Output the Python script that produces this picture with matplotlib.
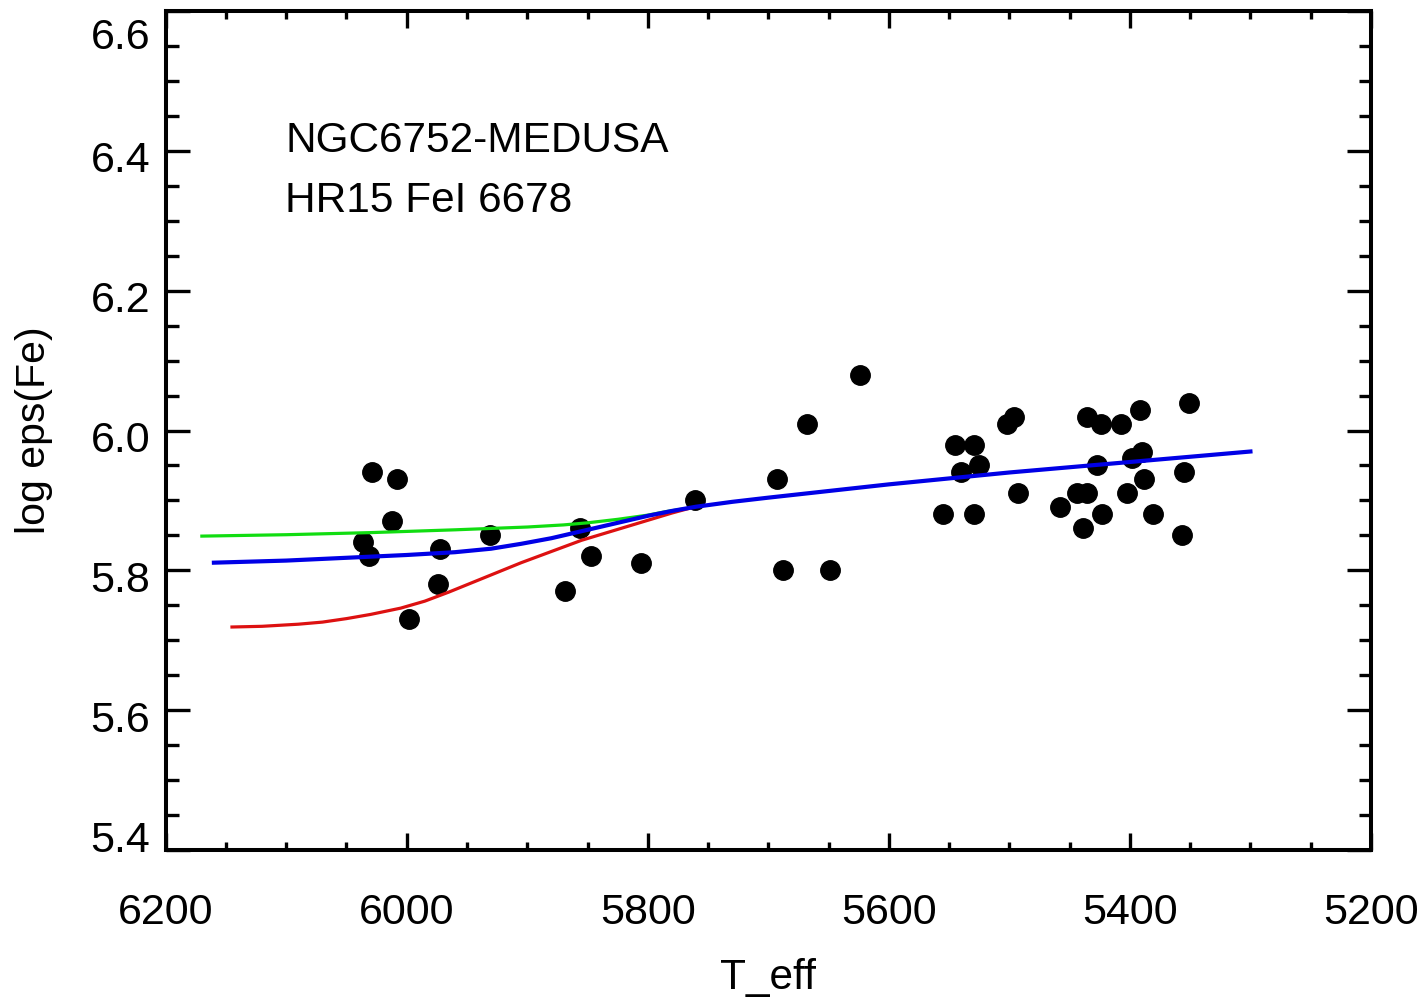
import numpy as np
import matplotlib
matplotlib.use('Agg')
import matplotlib.pyplot as plt
from matplotlib.transforms import ScaledTranslation
from matplotlib.ticker import MultipleLocator

plt.rcParams['font.family'] = ['Liberation Sans', 'DejaVu Sans']

# stars: effective temperature and abundance
teff = [6029, 6008, 6012, 6036, 6031, 5972, 5974, 5998, 5931, 5856,
        5847, 5869, 5806, 5761, 5693, 5688, 5668, 5649, 5624,
        5555, 5529, 5545, 5529, 5540, 5525, 5502, 5496, 5493, 5458,
        5444, 5436, 5439, 5423, 5427, 5436, 5424, 5407, 5392, 5398,
        5390, 5402, 5388, 5381, 5351, 5355, 5357]
logeps = [5.94, 5.93, 5.87, 5.84, 5.82, 5.83, 5.78, 5.73, 5.85, 5.86,
          5.82, 5.77, 5.81, 5.90, 5.93, 5.80, 6.01, 5.80, 6.08,
          5.88, 5.88, 5.98, 5.98, 5.94, 5.95, 6.01, 6.02, 5.91, 5.89,
          5.91, 5.91, 5.86, 5.88, 5.95, 6.02, 6.01, 6.01, 6.03, 5.96,
          5.97, 5.91, 5.93, 5.88, 6.04, 5.94, 5.85]

# model curves
green_t = [6170, 6100, 6030, 5960, 5900, 5870, 5850, 5825, 5800, 5785, 5770]
green_y = [5.849, 5.851, 5.854, 5.858, 5.862, 5.865, 5.868, 5.873, 5.879, 5.884, 5.888]

red_t = [6145, 6120, 6090, 6070, 6050, 6030, 6005, 5985, 5965, 5945, 5925,
         5905, 5880, 5855, 5830, 5805, 5780, 5765]
red_y = [5.719, 5.720, 5.723, 5.726, 5.731, 5.737, 5.746, 5.756, 5.769, 5.783, 5.797,
         5.811, 5.827, 5.843, 5.856, 5.869, 5.882, 5.889]

blue_t = [6160, 6100, 6050, 6000, 5960, 5930, 5905, 5880, 5860, 5840, 5820,
          5800, 5780, 5760, 5730, 5700, 5600, 5500, 5400, 5300]
blue_y = [5.811, 5.814, 5.818, 5.822, 5.826, 5.831, 5.838, 5.846, 5.854, 5.862, 5.870,
          5.878, 5.885, 5.891, 5.898, 5.904, 5.923, 5.940, 5.955, 5.970]

yticks = [5.4, 5.6, 5.8, 6.0, 6.2, 6.4, 6.6]
xticks = [6200, 6000, 5800, 5600, 5400, 5200]

fig = plt.figure(figsize=(14.26, 10.01), dpi=100)
ax = fig.add_axes([0.1162, 0.1508, 0.8452, 0.8382])

ax.plot(teff, logeps, 'o', color='black', ms=14, zorder=2)
ax.plot(green_t, green_y, color='#11dd11', lw=2.3, zorder=3)
ax.plot(red_t, red_y, color='#dd1111', lw=2.3, zorder=3)
ax.plot(blue_t, blue_y, color='#0000e6', lw=3.0, zorder=4)

ax.set_xlim(6200, 5200)
ax.set_ylim(5.4, 6.6)
ax.set_xticks(xticks)
ax.set_yticks(yticks)
ax.set_yticklabels(['%.1f' % v for v in yticks])
ax.xaxis.set_minor_locator(MultipleLocator(50))
ax.yaxis.set_minor_locator(MultipleLocator(0.05))

for s in ax.spines.values():
    s.set_linewidth(2.9)

ax.tick_params(axis='x', which='major', direction='in', length=12, width=2.4,
               top=True, bottom=True, labelsize=31, pad=31)
ax.tick_params(axis='x', which='minor', direction='in', length=6, width=2.4,
               top=True, bottom=True)
ax.tick_params(axis='y', which='major', direction='in', length=17.5, width=2.4,
               left=True, right=True, labelsize=31, pad=11)
ax.tick_params(axis='y', which='minor', direction='in', length=9, width=2.4,
               left=True, right=True)

# IDL style: end labels pushed inside the axis range
labs = ax.get_yticklabels()
for i, lab in enumerate(labs):
    if i == 0:
        dy = 10 / 72
    elif i == len(labs) - 1:
        dy = -16 / 72
    else:
        dy = -4.3 / 72
    lab.set_transform(lab.get_transform() + ScaledTranslation(0, dy, fig.dpi_scale_trans))

ax.set_xlabel('T_eff', fontsize=30.5)
ax.xaxis.set_label_coords(0.5, -0.1287)
ax.set_ylabel('log eps(Fe)', fontsize=29.5)
ax.yaxis.set_label_coords(-0.0935, 0.5)

ax.text(0.099, 0.832, 'NGC6752-MEDUSA', transform=ax.transAxes, fontsize=30.5,
        va='baseline', ha='left')
ax.text(0.099, 0.760, 'HR15 FeI 6678', transform=ax.transAxes, fontsize=30.5,
        va='baseline', ha='left')

fig.savefig('out.png', dpi=100)
